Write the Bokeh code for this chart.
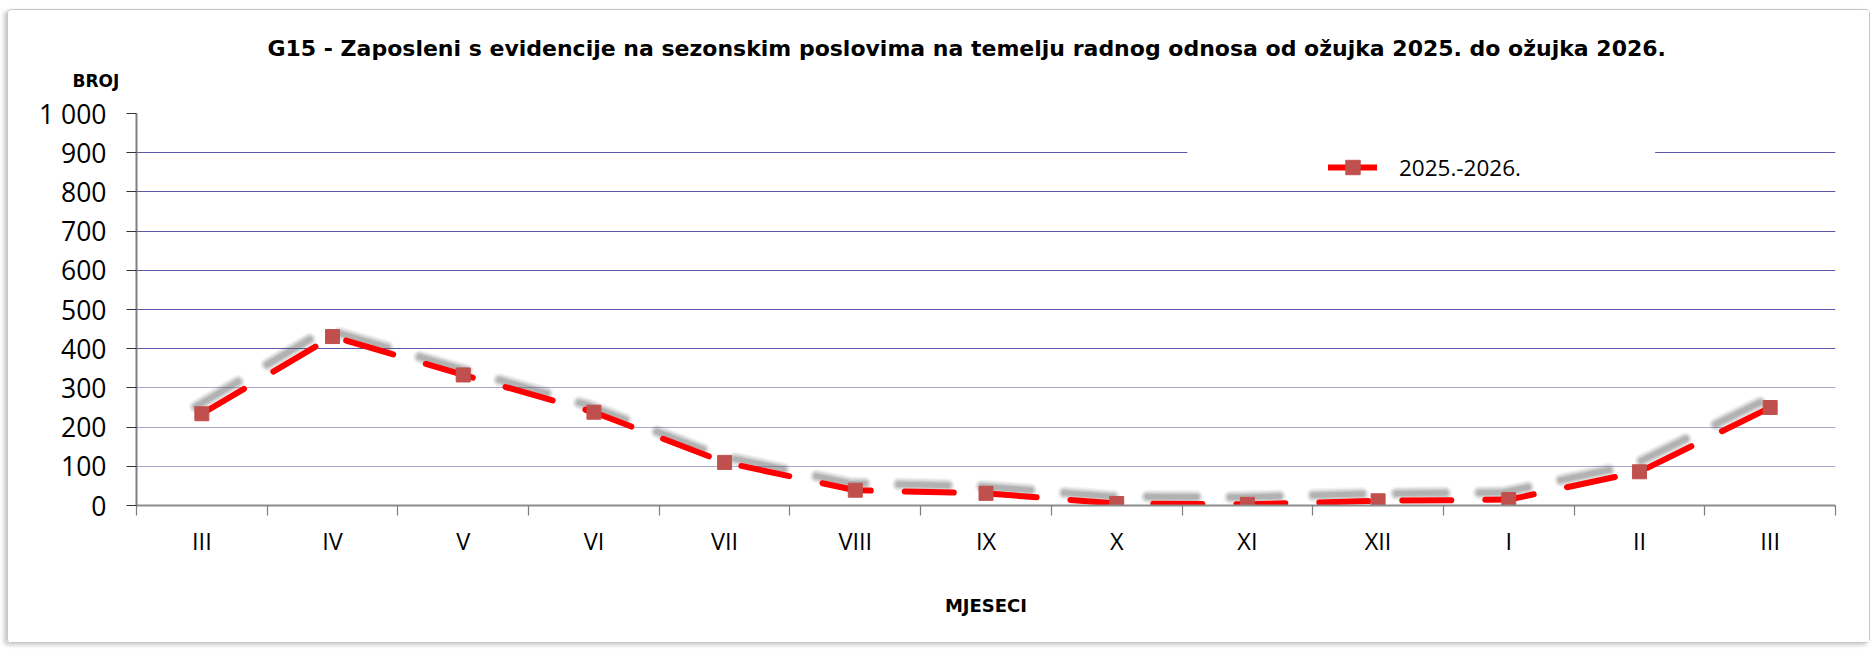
from bokeh.plotting import figure
from bokeh.models import (Range1d, FixedTicker, CustomJSTickFormatter, Grid, Title,
                          Legend, LegendItem, BoxAnnotation, ColumnDataSource)
from bokeh.transform import dodge
from bokeh.embed import file_html
from bokeh.resources import INLINE

# ---------------- data ----------------
title_text = ("G15 - Zaposleni s evidencije na sezonskim poslovima na temelju "
              "radnog odnosa od ožujka 2025. do ožujka 2026.")
y_title = "BROJ"
x_title = "MJESECI"
series_name = "2025.-2026."
months = ["III", "IV", "V", "VI", "VII", "VIII", "IX", "X", "XI", "XII", "I", "II", "III"]
values = [234, 431, 333, 238, 110, 39, 31, 5, 3, 12, 15, 86, 250]
y_ticks = [0, 100, 200, 300, 400, 500, 600, 700, 800, 900, 1000]
y_grid_upper = [400, 500, 600, 700, 800, 900, 1000]
y_grid_lower = [100, 200, 300]
y_label_overrides = {1000: "1 000"}

# ---------------- figure ----------------
n = len(months)
x_pos = [i + 0.5 for i in range(n)]
src = ColumnDataSource(dict(x=x_pos, y=values))

p = figure(width=1863, height=634,
           x_range=Range1d(0, n), y_range=Range1d(0, 1000),
           output_backend="svg", toolbar_location=None,
           min_border_left=128, min_border_right=36,
           min_border_top=103, min_border_bottom=139)
p.styles = {"margin-left": "7px", "margin-top": "9px",
            "border": "1px solid #c6c6c6", "border-radius": "4px",
            "box-shadow": "-3px 2px 4px rgba(0,0,0,0.22)"}
p.outline_line_color = None
p.background_fill_color = "white"
p.border_fill_color = "white"

# titles: p.title = main title (outer), BROJ added closer to the frame
p.title.text = title_text
p.title.align = "left"
p.title.offset = 131
p.title.standoff = -30
p.title.text_font = "DejaVu Sans"
p.title.text_font_style = "bold"
p.title.text_font_size = "22px"
p.title.text_color = "black"
p.add_layout(Title(text=y_title, align="left", offset=-64, standoff=46,
                   text_font="DejaVu Sans", text_font_style="bold",
                   text_font_size="17px", text_color="black"), "above")

# grids
p.xgrid.visible = False
p.ygrid.ticker = FixedTicker(ticks=y_grid_upper)
p.ygrid.grid_line_color = "#5a5aa8"
p.ygrid.grid_line_width = 1.2
g2 = Grid(dimension=1, ticker=FixedTicker(ticks=y_grid_lower),
          grid_line_color="#aaa4cc", grid_line_width=1.2)
p.add_layout(g2)

# x axis
xa = p.xaxis[0]
xa.ticker = FixedTicker(ticks=x_pos, minor_ticks=list(range(n + 1)))
xa.formatter = CustomJSTickFormatter(args=dict(labels=months),
                                     code="return labels[Math.floor(tick)];")
xa.major_tick_line_color = None
xa.minor_tick_in = 0
xa.minor_tick_out = 10
xa.minor_tick_line_color = "#7f7f7f"
xa.minor_tick_line_width = 1.2
xa.axis_line_color = "#8c8c8c"
xa.axis_line_width = 2
xa.major_label_text_font = "Open Sans"
xa.major_label_text_font_size = "23.5px"
xa.major_label_text_color = "black"
xa.major_label_standoff = 9
xa.axis_label = x_title
xa.axis_label_text_font = "DejaVu Sans"
xa.axis_label_text_font_style = "bold"
xa.axis_label_text_font_size = "18px"
xa.axis_label_text_color = "black"
xa.axis_label_standoff = 35

# y axis
ya = p.yaxis[0]
ya.ticker = FixedTicker(ticks=y_ticks)
ya.major_label_overrides = y_label_overrides
ya.minor_tick_line_color = None
ya.major_tick_in = 0
ya.major_tick_out = 10
ya.major_tick_line_color = "#333333"
ya.major_tick_line_width = 1.2
ya.axis_line_color = "#7f7f7f"
ya.axis_line_width = 2
ya.major_label_text_font = "Open Sans"
ya.major_label_text_font_size = "26.5px"
ya.major_label_text_color = "black"
ya.major_label_standoff = 20

# blank area behind legend (legend box background)
p.add_layout(BoxAnnotation(left=8.04, right=11.62, bottom=880, top=920,
                           fill_color="white", fill_alpha=1, line_color=None))

# shadow of the series line (soft, offset up-left)
for w, a in [(14, 0.08), (11, 0.12), (8, 0.16), (5, 0.2)]:
    p.line(x=dodge("x", -0.046), y=dodge("y", 18), source=src,
           line_color="#5a5a5a", line_alpha=a, line_width=w,
           line_dash="49 34", line_cap="round", line_join="round")

# series
line_r = p.line(x="x", y="y", source=src, line_color="#ff0000", line_width=6,
                line_dash="49 34", line_cap="round", line_join="round")
mark_r = p.scatter(x="x", y="y", source=src, marker="square", size=14,
                   fill_color="#c0504d", line_color="#c0504d")

legend = Legend(items=[LegendItem(label=series_name, renderers=[line_r, mark_r])],
                location=(1192, 320), margin=0, padding=0,
                glyph_width=49, glyph_height=36, label_standoff=22,
                label_text_font="Open Sans", label_text_font_size="22.5px",
                label_text_color="black",
                background_fill_alpha=0, border_line_color=None)
p.add_layout(legend)

open("out.html", "w").write(file_html(p, INLINE))
